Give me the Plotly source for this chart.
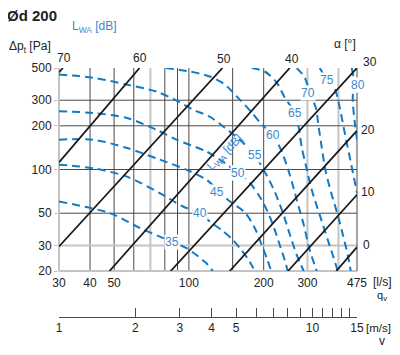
import math
import plotly.graph_objects as go

# ---------------- data ----------------
title_text = "Ød 200"

q_tick_vals = [30, 40, 50, 100, 200, 300, 475]
p_tick_vals = [20, 30, 50, 100, 200, 300, 500]
v_tick_vals = [1, 2, 3, 4, 5, 10, 15]
v_minor_vals = [6, 7, 8, 9, 11, 12, 13, 14]

q_grid_dark = [40, 50, 60, 80, 90, 100, 150, 200]
q_grid_light = [70, 300, 400]
p_grid_dark = [50, 100, 200, 300]
p_grid_light = [30]

# damper blade angle lines (alpha, degrees): end points (q [l/s], dp [Pa])
alpha_values = [70, 60, 50, 40, 30, 20, 10, 0]
alpha_q = [[30, 31.1], [30, 63.3], [30, 136.5], [47.9, 254.6],
           [84.5, 475], [146, 475], [250.6, 475], [392, 475]]
alpha_p = [[467, 500], [112, 500], [29.5, 500], [20, 500],
           [20, 500], [20, 185], [20, 67], [20, 29.2]]

# sound power level isolines L_WA [dB]
lwa_values = [35, 40, 45, 50, 55, 60, 65, 70, 75, 80]
lwa_q = [
    [30, 48.0, 63.4, 76.3, 97.7, 117.7, 124.7],
    [30, 41.1, 56.0, 76.3, 94.7, 110.6, 121.3, 135.2, 150.1, 162.7, 175.7, 184.1],
    [30, 41.1, 56.0, 76.3, 97.7, 117.7, 143.3, 167.8, 184.1, 196.4, 205.7, 214.5],
    [30, 41.1, 56.0, 74.0, 89.1, 117.7, 139.4, 157.3, 175.7, 192.8, 207.6, 221.6, 234.2, 243.1, 249.9],
    [30, 41.1, 56.0, 74.0, 87.7, 103.6, 121.3, 139.4, 160.2, 184.1, 201.9, 221.6, 238.6, 254.7, 271.7, 289.9],
    [80.7, 100.8, 121.3, 139.4, 160.2, 179.0, 196.4, 217.5, 236.4, 254.7, 271.7, 289.9, 306.4, 327.1],
    [179.0, 201.9, 225.7, 243.1, 266.7, 276.8, 284.6, 295.3, 312.2, 336.3, 362.1, 382.9, 397.2],
    [271.7, 292.6, 306.4, 324.1, 333.3, 342.7, 355.5, 375.9, 397.3, 416.2, 435.9, 448.2],
    [336.3, 358.9, 387.4, 404.7, 420.0, 435.9, 456.6, 475],
    [452.3, 460.8, 456.6, 465.0, 475],
]
lwa_p = [
    [60.2, 50.1, 39.6, 34.5, 28.7, 22.6, 20],
    [108, 102, 89.6, 68.8, 55.6, 50.1, 43.8, 38.4, 32.8, 27.9, 23.2, 20],
    [160.5, 160.5, 141, 117, 99.7, 85.0, 61.9, 50.7, 39.6, 30.2, 24.6, 20],
    [252, 245, 227, 188, 160.5, 133, 111, 95.0, 81.0, 64.9, 51.1, 38.4, 28.8, 23.8, 20],
    [451, 428, 385, 344, 303, 259, 231, 194, 160.5, 126, 96.6, 70.3, 50.7, 35.8, 25.8, 20],
    [500, 473, 437, 385, 303, 247, 204, 174, 133, 92.0, 61.9, 41.6, 27.9, 20],
    [500, 473, 397, 313, 247, 194, 141.5, 108, 72.5, 48.7, 32.8, 24.6, 20],
    [500, 430, 339, 267, 194, 141.5, 96.6, 67.0, 48.7, 35.8, 25.8, 20],
    [500, 416, 355, 267, 194, 141.5, 96.6, 69.1],
    [500, 416, 303, 212, 160.5],
]

# ---------------- layout helpers ----------------
# the page body has an 8px margin, so the figure is drawn 8px in from the corner
OFF = 8
W, H = 400 - OFF, 355 - OFF
ML, MR, MT, MB = 59 - OFF, 43, 68 - OFF, 38
PW = W - ML - MR
PH = H - MT - MB
MAIN_BOTTOM = 271


def px(x):
    """window pixel x -> paper coordinate"""
    return (x - OFF - ML) / PW


def py(y):
    """window pixel y -> paper coordinate"""
    return (H - MB - (y - OFF)) / PH


FONT = "Liberation Sans, Arial, Helvetica, sans-serif"
BLUE = "#1479c4"
BLUE_TXT = "#3b8ad0"
DARK = "#1a1a1a"
GRID = "#4a4a4a"
LIGHT = "#c4c4c4"

# label positions (pixels in the 400x355 window)
lwa_label_pos = [(171.7, 241.7), (200, 213.3), (216.7, 191.7), (238.3, 173.3), (255, 155),
                 (273.3, 135), (295, 113.3), (308.3, 93.3), (326.7, 80), (358.3, 85)]
alpha_label_pos = [(64, 58), (140, 58), (224, 59), (292, 59), (370, 62),
                   (368, 130), (368, 192), (366, 245)]

fig = go.Figure()

# blue dashed isolines
for lv, qs, ps in zip(lwa_values, lwa_q, lwa_p):
    fig.add_trace(go.Scatter(
        x=qs, y=ps, mode="lines", name=f"{lv}",
        line=dict(color=BLUE, width=2, dash="8px,5px", shape="spline", smoothing=0.8),
        hoverinfo="skip", showlegend=False))

# black damper lines
for a, qs, ps in zip(alpha_values, alpha_q, alpha_p):
    fig.add_trace(go.Scatter(
        x=qs, y=ps, mode="lines", name=f"{a}",
        line=dict(color=DARK, width=1.8),
        hoverinfo="skip", showlegend=False))

# velocity axis dummy trace
fig.add_trace(go.Scatter(x=[1, 15], y=[None, None], xaxis="x2", yaxis="y",
                         mode="lines", showlegend=False, hoverinfo="skip"))

shapes = []
for q in q_grid_dark:
    shapes.append(dict(type="line", xref="x", yref="y domain", x0=q, x1=q, y0=0, y1=1,
                       line=dict(color=GRID, width=1), layer="below"))
for q in q_grid_light:
    shapes.append(dict(type="line", xref="x", yref="y domain", x0=q, x1=q, y0=0, y1=1,
                       line=dict(color=LIGHT, width=2), layer="below"))
for p in p_grid_dark:
    shapes.append(dict(type="line", xref="x domain", yref="y", x0=0, x1=1, y0=p, y1=p,
                       line=dict(color=GRID, width=1), layer="below"))
for p in p_grid_light:
    shapes.append(dict(type="line", xref="x domain", yref="y", x0=0, x1=1, y0=p, y1=p,
                       line=dict(color=LIGHT, width=2), layer="below"))
# frame: left & bottom light, right dark
shapes.append(dict(type="line", xref="x domain", yref="y domain", x0=0, x1=0, y0=0, y1=1,
                   line=dict(color=LIGHT, width=2), layer="below"))
shapes.append(dict(type="line", xref="x domain", yref="y domain", x0=0, x1=1, y0=0, y1=0,
                   line=dict(color=LIGHT, width=2), layer="below"))
shapes.append(dict(type="line", xref="x domain", yref="y domain", x0=1, x1=1, y0=0, y1=1,
                   line=dict(color=GRID, width=1), layer="below"))

ann = []
for lv, (x, y) in zip(lwa_values, lwa_label_pos):
    ann.append(dict(xref="paper", yref="paper", x=px(x), y=py(y), text=str(lv), showarrow=False,
                    font=dict(family=FONT, size=12, color=BLUE_TXT), bgcolor="white",
                    borderpad=0, xanchor="center", yanchor="middle"))
for a, (x, y) in zip(alpha_values, alpha_label_pos):
    ann.append(dict(xref="paper", yref="paper", x=px(x), y=py(y), text=str(a), showarrow=False,
                    font=dict(family=FONT, size=12, color="#222"), xanchor="center", yanchor="middle"))

ann += [
    dict(xref="paper", yref="paper", x=px(5), y=py(15), text="<b>" + title_text + "</b>",
         showarrow=False, font=dict(family=FONT, size=15, color="#222"),
         xanchor="left", yanchor="middle"),
    dict(xref="paper", yref="paper", x=px(70), y=py(27), text="L<sub>WA</sub> [dB]",
         showarrow=False, font=dict(family=FONT, size=12, color=BLUE_TXT),
         xanchor="left", yanchor="middle"),
    dict(xref="paper", yref="paper", x=px(53), y=py(47), text="Δp<sub>t</sub> [Pa]",
         showarrow=False, font=dict(family=FONT, size=12, color="#222"),
         xanchor="right", yanchor="middle"),
    dict(xref="paper", yref="paper", x=px(358), y=py(44), text="α [°]",
         showarrow=False, font=dict(family=FONT, size=12, color="#222"),
         xanchor="right", yanchor="middle"),
    dict(xref="paper", yref="paper", x=px(225), y=py(153), text="L<sub>WA</sub> [dB]",
         showarrow=False, textangle=-45, font=dict(family=FONT, size=12, color=BLUE_TXT),
         xanchor="center", yanchor="middle"),
    dict(xref="paper", yref="paper", x=px(371), y=py(281.5), text="[l/s]",
         showarrow=False, font=dict(family=FONT, size=12, color="#222"),
         xanchor="left", yanchor="middle"),
    dict(xref="paper", yref="paper", x=px(382), y=py(296), text="q<sub>v</sub>",
         showarrow=False, font=dict(family=FONT, size=11, color="#222"),
         xanchor="center", yanchor="middle"),
    dict(xref="paper", yref="paper", x=px(393), y=py(328), text="[m/s]",
         showarrow=False, font=dict(family=FONT, size=11.5, color="#222"),
         xanchor="right", yanchor="middle"),
    dict(xref="paper", yref="paper", x=px(382), y=py(341), text="v",
         showarrow=False, font=dict(family=FONT, size=12, color="#222"),
         xanchor="center", yanchor="middle"),
]

fig.update_layout(
    width=W, height=H,
    margin=dict(l=ML, r=MR, t=MT, b=MB, pad=0, autoexpand=False),
    paper_bgcolor="white", plot_bgcolor="white",
    font=dict(family=FONT, size=12, color="#222"),
    showlegend=False,
    xaxis=dict(type="log", range=[math.log10(30), math.log10(475)],
               tickvals=q_tick_vals, ticktext=[str(v) for v in q_tick_vals],
               showgrid=False, zeroline=False, showline=False, ticks="",
               ticklabelstandoff=3, automargin=False,
               tickfont=dict(family=FONT, size=12, color="#222"), anchor="y"),
    yaxis=dict(type="log", range=[math.log10(20), math.log10(500)],
               domain=[py(MAIN_BOTTOM), 1], automargin=False,
               tickvals=p_tick_vals, ticktext=[str(v) for v in p_tick_vals],
               showgrid=False, zeroline=False, showline=False,
               ticks="outside", ticklen=4, tickcolor=LIGHT, tickwidth=1,
               tickfont=dict(family=FONT, size=12, color="#222")),
    xaxis2=dict(type="log", range=[0, math.log10(15)], overlaying="x", anchor="free",
                position=0, side="bottom", automargin=False,
                tickvals=v_tick_vals, ticktext=[str(v) for v in v_tick_vals],
                showgrid=False, zeroline=False, showline=True, linecolor=GRID, linewidth=1,
                ticks="inside", ticklen=9, tickcolor=GRID, tickwidth=1,
                minor=dict(tickvals=v_minor_vals, ticks="inside", ticklen=9,
                           tickcolor=GRID, tickwidth=1, showgrid=False),
                tickfont=dict(family=FONT, size=12, color="#222")),
    shapes=shapes,
    annotations=ann,
)

fig.write_html("out.html")
